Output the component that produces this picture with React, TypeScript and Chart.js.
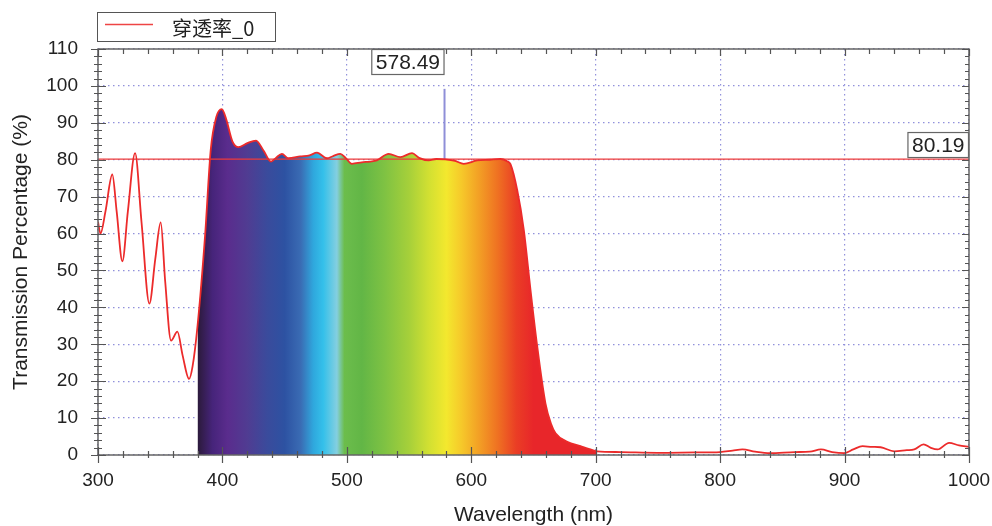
import React, { useEffect, useRef } from "react";
import { Chart, registerables } from "chart.js";

Chart.register(...registerables);

// ---- data ----
const wavelengths = [
  300, 302, 306, 311.5, 315, 319.6, 324, 329.8, 335, 341.3, 346, 350.4, 354, 358.7, 363.8, 368, 373.2, 376,
  380, 386, 390.6, 395, 399.5, 403, 408, 412.9, 420, 427, 433, 439, 443, 447.8, 453, 462.5, 470, 476, 484,
  489, 494.7, 499, 504, 512, 518.8, 524, 533.6, 543, 552.4, 558, 565.8, 572, 579, 587, 593.9, 604.7, 615,
  623.4, 628.8, 631.5, 636.9, 642.2, 647.6, 653, 659.6, 664, 667.7, 677.1, 687.8, 695, 701.2, 720, 750,
  780, 800, 810, 818, 828, 840, 860, 872, 881, 890, 899.6, 907, 914.4, 922, 929, 939.9, 950, 956, 963.5,
  969, 974.8, 984, 992, 1000,
];
const transmission = [
  63.2, 60.0, 66, 76.0, 66, 52.5, 66, 81.8, 63, 41.0, 53, 63.0, 47, 31.0, 33.4, 27, 20.6, 24,
  35, 59.2, 82.7, 91.5, 93.7, 91, 85, 83.4, 84.5, 85.2, 82.5, 79.5, 80.5, 81.6, 80.4, 80.9, 81.2, 81.9, 80.4,
  81, 81.6, 80.5, 78.9, 79.3, 79.5, 79.8, 81.6, 80.7, 81.8, 80.5, 79.8, 80.2, 80.1, 79.7, 78.9, 79.8, 80.0,
  80.2, 79.6, 78.8, 71.8, 61, 44.7, 29.4, 14, 8.5, 5.9, 3.6, 2.4, 1.6, 1.0, 0.8, 0.6,
  0.7, 0.8, 1.2, 1.5, 0.9, 0.5, 0.8, 0.9, 1.5, 0.8, 0.5, 1.5, 2.4, 2.2, 2.1, 1.0, 1.3, 1.5, 2.9,
  2.0, 1.5, 3.3, 2.6, 2.2,
];
const seriesName = "穿透率_0";
const avgValue = 80.19;
const markerWavelength = 578.49;
const markerTop = 99.2;
const fillStart = 380;
const fillEnd = 702;

const xMin = 300;
const xMax = 1000;
const xStep = 100;
const xMinorStep = 20;
const yMin = 0;
const yMax = 110;
const yStep = 10;
const yMinorStep = 2;

const spectrumStops: [number, string][] = [
  [380, "#2b1a3a"],
  [392, "#46247a"],
  [404, "#5a2c8d"],
  [420, "#503c92"],
  [436, "#3a4b9c"],
  [450, "#2d52a2"],
  [463, "#3a6cb4"],
  [473, "#2fa7dd"],
  [481, "#34c0ea"],
  [492, "#84cfe0"],
  [498, "#6cbd4c"],
  [512, "#62b646"],
  [530, "#7ec243"],
  [550, "#a6d03a"],
  [566, "#d2e032"],
  [580, "#f3e82e"],
  [592, "#f6c92a"],
  [606, "#f3a025"],
  [621, "#ef7222"],
  [636, "#ea3e25"],
  [650, "#e8262a"],
  [702, "#e8262a"],
];

const FONT = "'Liberation Sans', Arial, Helvetica, sans-serif";

function drawLabelBox(ctx: CanvasRenderingContext2D, text: string, right: number, top: number) {
  ctx.font = `21px ${FONT}`;
  const w = ctx.measureText(text).width + 9;
  const h = 26;
  const left = right - w;
  ctx.fillStyle = "#ffffff";
  ctx.fillRect(left, top, w, h);
  ctx.strokeStyle = "#666";
  ctx.lineWidth = 1.2;
  ctx.strokeRect(left + 0.5, top + 0.5, w - 1, h - 1);
  ctx.fillStyle = "#222";
  ctx.textAlign = "center";
  ctx.textBaseline = "middle";
  ctx.fillText(text, left + w / 2, top + h / 2 + 1);
}

const overlayPlugin = {
  id: "overlay",
  afterDraw(chart: any) {
    const { ctx, chartArea: a, scales } = chart;
    const x = scales.x;
    const y = scales.y;
    ctx.save();

    // frame
    ctx.strokeStyle = "#666";
    ctx.lineWidth = 1.5;
    ctx.strokeRect(a.left, a.top, a.right - a.left, a.bottom - a.top);

    // ticks
    ctx.strokeStyle = "#555";
    ctx.lineWidth = 1.2;
    ctx.beginPath();
    for (let v = yMin; v <= yMax + 1e-6; v += yMinorStep) {
      const py = Math.round(y.getPixelForValue(v)) + 0.5;
      const major = Math.abs(v % yStep) < 1e-6;
      ctx.moveTo(a.left - (major ? 7 : 4), py);
      ctx.lineTo(a.left + (major ? 8 : 4), py);
      ctx.moveTo(a.right, py);
      ctx.lineTo(a.right - (major ? 7 : 4), py);
    }
    for (let v = xMin; v <= xMax + 1e-6; v += xMinorStep) {
      const px = Math.round(x.getPixelForValue(v)) + 0.5;
      const major = Math.abs(v % xStep) < 1e-6;
      ctx.moveTo(px, a.bottom - (major ? 8 : 4));
      ctx.lineTo(px, a.bottom + (major ? 8 : 3));
      ctx.moveTo(px, a.top);
      ctx.lineTo(px, a.top + (major ? 7 : 5));
    }
    ctx.stroke();

    // value labels
    drawLabelBox(ctx, avgValue.toFixed(2), a.right, y.getPixelForValue(avgValue) - 27);
    drawLabelBox(ctx, markerWavelength.toFixed(2), x.getPixelForValue(markerWavelength), a.top);

    // legend
    const lx = 97.5;
    const ly = 12.5;
    ctx.fillStyle = "#fff";
    ctx.fillRect(lx, ly, 178, 29);
    ctx.strokeStyle = "#555";
    ctx.lineWidth = 1;
    ctx.strokeRect(lx, ly, 178, 29);
    ctx.strokeStyle = "#ee4444";
    ctx.lineWidth = 1.5;
    ctx.beginPath();
    ctx.moveTo(105, 24.5);
    ctx.lineTo(153, 24.5);
    ctx.stroke();
    ctx.fillStyle = "#222";
    ctx.font = `20px 'Noto Sans CJK SC', ${FONT}`;
    ctx.textAlign = "left";
    ctx.textBaseline = "middle";
    ctx.fillText(seriesName, 172, 28);

    ctx.restore();
  },
};

export default function App() {
  const ref = useRef<HTMLCanvasElement | null>(null);

  useEffect(() => {
    document.body.style.margin = "0";
    const canvas = ref.current;
    if (!canvas) return;

    const points = wavelengths.map((w, i) => ({ x: w, y: transmission[i] }));
    const fillPoints = points.filter((p) => p.x >= fillStart && p.x <= fillEnd);

    const chart = new Chart(canvas, {
      type: "line",
      data: {
        datasets: [
          {
            label: seriesName,
            data: points,
            borderColor: "#ec2b2b",
            borderWidth: 1.8,
            pointRadius: 0,
            fill: false,
            cubicInterpolationMode: "monotone",
          },
          {
            label: "avg",
            data: [
              { x: xMin, y: avgValue },
              { x: xMax, y: avgValue },
            ],
            borderColor: "#ee3a3a",
            borderWidth: 1.2,
            pointRadius: 0,
            fill: false,
          },
          {
            label: "marker",
            data: [
              { x: markerWavelength, y: 80.2 },
              { x: markerWavelength, y: markerTop },
            ],
            borderColor: "#8f8fd8",
            borderWidth: 2,
            pointRadius: 0,
            fill: false,
          },
          {
            label: "spectrum",
            data: fillPoints,
            borderWidth: 0,
            borderColor: "rgba(0,0,0,0)",
            pointRadius: 0,
            fill: "origin",
            cubicInterpolationMode: "monotone",
            backgroundColor: (c: any) => {
              const ch = c.chart;
              const { ctx, chartArea, scales } = ch;
              if (!chartArea || !scales.x) return "#e8262a";
              const x0 = scales.x.getPixelForValue(fillStart);
              const x1 = scales.x.getPixelForValue(fillEnd);
              const g = ctx.createLinearGradient(x0, 0, x1, 0);
              spectrumStops.forEach(([w, col]) => {
                g.addColorStop((w - fillStart) / (fillEnd - fillStart), col);
              });
              return g;
            },
          },
        ],
      },
      options: {
        animation: false,
        responsive: false,
        events: [],
        layout: { padding: { top: 49, right: 23, left: 0, bottom: 0 } },
        plugins: {
          legend: { display: false },
          tooltip: { enabled: false },
        },
        scales: {
          x: {
            type: "linear",
            min: xMin,
            max: xMax,
            ticks: {
              stepSize: xStep,
              padding: 14,
              color: "#222",
              font: { family: FONT, size: 19 },
              maxRotation: 0,
              callback: (v: any) => String(v),
            },
            grid: { color: "#9191db", lineWidth: 1.2, drawTicks: false },
            border: { display: false, dash: [1.5, 3.5] },
            title: {
              display: true,
              text: "Wavelength (nm)",
              color: "#222",
              font: { family: FONT, size: 21, lineHeight: 1.0 },
              padding: { top: 0, bottom: 0 },
            },
            afterFit: (s: any) => {
              s.height = 71;
              s.paddingLeft = 0;
              s.paddingRight = 0;
            },
          },
          y: {
            type: "linear",
            min: yMin,
            max: yMax,
            ticks: {
              stepSize: yStep,
              padding: 20,
              color: "#222",
              font: { family: FONT, size: 19 },
            },
            grid: { color: "#9191db", lineWidth: 1.2, drawTicks: false },
            border: { display: false, dash: [1.5, 3.5] },
            title: {
              display: true,
              text: "Transmission Percentage (%)",
              color: "#222",
              font: { family: FONT, size: 21 },
              padding: { top: 9, bottom: 0 },
            },
            afterFit: (s: any) => {
              s.width = 98;
              s.paddingTop = 0;
              s.paddingBottom = 0;
            },
          },
        },
      },
      plugins: [overlayPlugin],
    });

    return () => chart.destroy();
  }, []);

  return (
    <div style={{ width: 992, height: 526 }}>
      <canvas ref={ref} width={992} height={526} style={{ display: "block" }} />
    </div>
  );
}
